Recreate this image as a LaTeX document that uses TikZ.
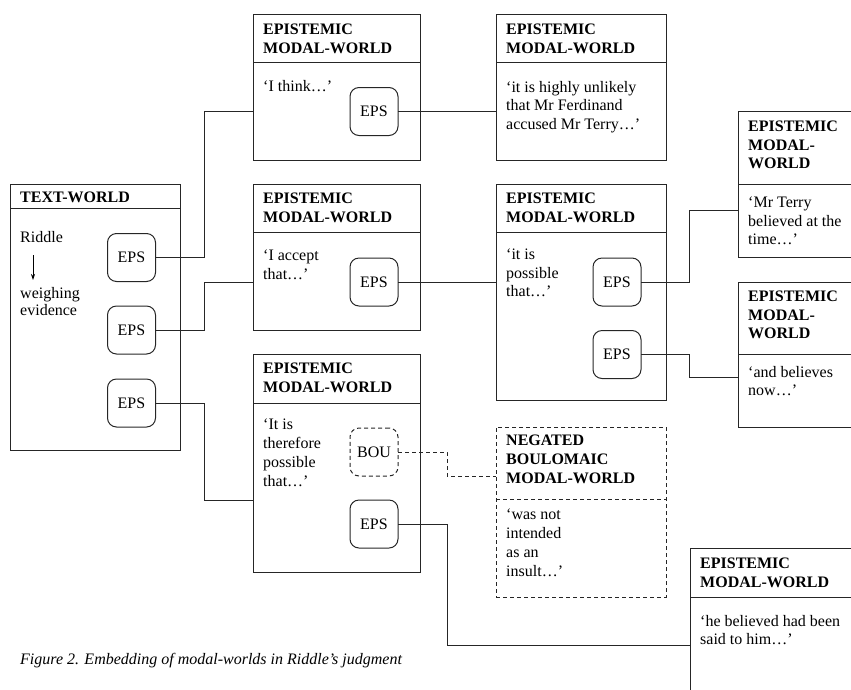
\documentclass[tikz,border=0pt]{standalone}
\usepackage{fontspec}
\setmainfont{Liberation Serif}
\usetikzlibrary{arrows.meta}
\tikzset{
  world/.style={draw=black!85, line width=1pt, anchor=north west, inner sep=0pt, outer sep=0pt},
  negworld/.style={world, dash pattern=on 4pt off 3pt},
  tag/.style={draw=black!85, line width=1pt, rounded corners=9pt, minimum width=48pt, minimum height=48pt, inner sep=0pt, outer sep=0pt},
  negtag/.style={tag, dash pattern=on 4pt off 3pt},
  txt/.style={anchor=north west, inner sep=0pt, align=left},
  head/.style={txt, font=\fontsize{16}{18.5}\selectfont\bfseries},
  link/.style={draw=black!85, line width=1pt},
  neglink/.style={link, dash pattern=on 4pt off 3pt},
}
\begin{document}
\begin{tikzpicture}[x=1pt, y=-1pt, font=\fontsize{16}{18.5}\selectfont]
	\useasboundingbox (0,0) rectangle (851,689);
	\clip (0,0) rectangle (851,689);
	% text-world
	\node[world, minimum width=170pt, minimum height=266pt] (tw) at (10,184) {};
	\draw[link] (10,208) -- (180,208);
	\node[head] (twh) at (20,192) {TEXT-WORLD};
	\node[txt] (twr) at (20,231) {Riddle};
	\draw[-{Stealth[length=6pt, width=4pt]}, line width=.8pt] (33,255) -- (33,280);
	\node[txt, font=\fontsize{16}{17.5}\selectfont] (tww) at (20,287) {weighing\\evidence};
	\node[tag] (t1) at (131.5,257.5) {EPS};
	\node[tag] (t2) at (131.5,330) {EPS};
	\node[tag] (t3) at (131.5,403) {EPS};
	% epistemic modal-worlds
	\node[world, minimum width=167pt, minimum height=146pt] (m1) at (253,14) {};
	\draw[link] (253,62) -- (420,62);
	\node[head] (m1h) at (263,24) {EPISTEMIC\\MODAL-WORLD};
	\node[txt] (m1t) at (263,80) {‘I think…’};
	\node[tag] (e1) at (374,111.5) {EPS};
	\node[world, minimum width=170pt, minimum height=146pt] (m2) at (496,14) {};
	\draw[link] (496,62) -- (666,62);
	\node[head] (m2h) at (506,24) {EPISTEMIC\\MODAL-WORLD};
	\node[txt] (m2t) at (506,81) {‘it is highly unlikely\\that Mr Ferdinand\\accused Mr Terry…’};
	\node[world, minimum width=167pt, minimum height=146pt] (m3) at (253,184) {};
	\draw[link] (253,232) -- (420,232);
	\node[head] (m3h) at (263,193) {EPISTEMIC\\MODAL-WORLD};
	\node[txt] (m3t) at (263,250) {‘I accept\\that…’};
	\node[tag] (e2) at (374,282) {EPS};
	\node[world, minimum width=170pt, minimum height=216pt] (m4) at (496,184) {};
	\draw[link] (496,232) -- (666,232);
	\node[head] (m4h) at (506,193) {EPISTEMIC\\MODAL-WORLD};
	\node[txt] (m4t) at (506,249) {‘it is\\possible\\that…’};
	\node[tag] (e5) at (617,282) {EPS};
	\node[tag] (e6) at (617,354.5) {EPS};
	\node[world, minimum width=140pt, minimum height=146pt] (m5) at (738,111) {};
	\draw[link] (738,184) -- (878,184);
	\node[head] (m5h) at (748,121) {EPISTEMIC\\MODAL-\\WORLD};
	\node[txt] (m5t) at (748,197) {‘Mr Terry\\believed at the\\time…’};
	\node[world, minimum width=140pt, minimum height=145pt] (m6) at (738,282) {};
	\draw[link] (738,354) -- (878,354);
	\node[head] (m6h) at (748,291) {EPISTEMIC\\MODAL-\\WORLD};
	\node[txt] (m6t) at (748,366) {‘and believes\\now…’};
	\node[world, minimum width=167pt, minimum height=218pt] (m7) at (253,354) {};
	\draw[link] (253,403) -- (420,403);
	\node[head] (m7h) at (263,363) {EPISTEMIC\\MODAL-WORLD};
	\node[txt, font=\fontsize{16}{19}\selectfont] (m7t) at (263,419) {‘It is\\therefore\\possible\\that…’};
	\node[negtag] (e3) at (374,452) {BOU};
	\node[tag] (e4) at (374,524) {EPS};
	\node[negworld, minimum width=170pt, minimum height=170pt] (m8) at (496,427) {};
	\draw[neglink] (496,499) -- (666,499);
	\node[head, font=\fontsize{16}{19}\selectfont\bfseries] (m8h) at (506,435) {NEGATED\\BOULOMAIC\\MODAL-WORLD};
	\node[txt, font=\fontsize{16}{19}\selectfont] (m8t) at (506,509) {‘was not\\intended\\as an\\insult…’};
	\node[world, minimum width=190pt, minimum height=160pt] (m9) at (690,548) {};
	\draw[link] (690,597) -- (880,597);
	\node[head] (m9h) at (700,558) {EPISTEMIC\\MODAL-WORLD};
	\node[txt] (m9t) at (700,615) {‘he believed had been\\said to him…’};
	% connectors
	\coordinate (m5in) at (738,210);
	\coordinate (m6in) at (738,377);
	\coordinate (m7in) at (253,500);
	\coordinate (m8in) at (496,476);
	\coordinate (m9in) at (690,645);
	\draw[link] (t1.east) -- ++(49,0) |- (m1.west |- e1.east);
	\draw[link] (t2.east) -- ++(49,0) |- (m3.west |- e2.east);
	\draw[link] (t3.east) -- ++(49,0) |- (m7in);
	\draw[link] (e1.east) -- (m2.west |- e1.east);
	\draw[link] (e2.east) -- (m4.west |- e2.east);
	\draw[link] (e5.east) -- ++(48,0) |- (m5in);
	\draw[link] (e6.east) -- ++(48,0) |- (m6in);
	\draw[neglink] (e3.east) -- ++(49,0) |- (m8in);
	\draw[link] (e4.east) -- ++(49,0) |- (m9in);
	% caption
	\node[txt, font=\fontsize{16}{18.5}\selectfont\itshape] (cap) at (20,653) {Figure 2. Embedding of modal-worlds in Riddle’s judgment};
\end{tikzpicture}
\end{document}
